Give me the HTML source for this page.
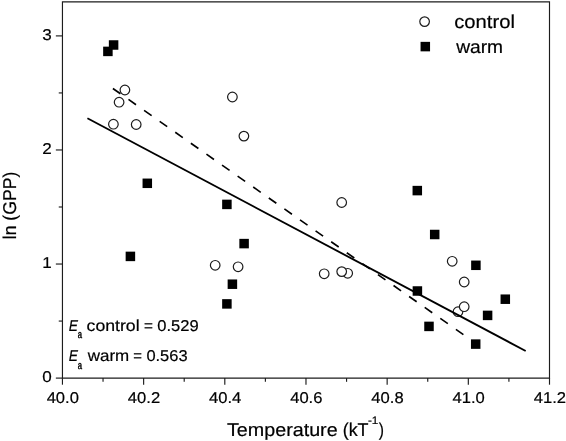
<!DOCTYPE html>
<html lang="en"><head><meta charset="utf-8"><title>ln (GPP) vs Temperature</title>
<style>html,body{margin:0;padding:0;background:#fff}svg{display:block}text{font-family:"Liberation Sans",sans-serif;fill:#000;stroke:#000;stroke-width:.2px;text-rendering:geometricPrecision}</style></head><body>
<svg width="566" height="441" viewBox="0 0 566 441">
<rect width="566" height="441" fill="#fff"/>
<g stroke="#1c1c1c" stroke-width="1.15" fill="none">
<path d="M62.45 1.9H549.5V378.1H62.45Z"/>
<path d="M55.85 378.10H62.45"/>
<path d="M58.75 321.07H62.45"/>
<path d="M55.85 264.03H62.45"/>
<path d="M58.75 207.00H62.45"/>
<path d="M55.85 149.97H62.45"/>
<path d="M58.75 92.93H62.45"/>
<path d="M55.85 35.90H62.45"/>
<path d="M62.45 378.1V384.70"/>
<path d="M103.04 378.1V381.80"/>
<path d="M143.63 378.1V384.70"/>
<path d="M184.21 378.1V381.80"/>
<path d="M224.80 378.1V384.70"/>
<path d="M265.39 378.1V381.80"/>
<path d="M305.98 378.1V384.70"/>
<path d="M346.56 378.1V381.80"/>
<path d="M387.15 378.1V384.70"/>
<path d="M427.74 378.1V381.80"/>
<path d="M468.32 378.1V384.70"/>
<path d="M508.91 378.1V381.80"/>
<path d="M549.50 378.1V384.70"/>
</g>
<path d="M112.9 88.5L463.4 334.6" stroke="#000" stroke-width="1.65" stroke-dasharray="9.2 9.85" fill="none"/>
<g stroke="#1c1c1c" stroke-width="1.2" fill="#fff">
<circle cx="124.9" cy="90.0" r="4.8"/>
<circle cx="119.1" cy="102.2" r="4.8"/>
<circle cx="113.4" cy="124.2" r="4.8"/>
<circle cx="136.2" cy="124.5" r="4.8"/>
<circle cx="232.4" cy="97.0" r="4.8"/>
<circle cx="243.9" cy="136.1" r="4.8"/>
<circle cx="215.2" cy="265.3" r="4.8"/>
<circle cx="238.1" cy="266.8" r="4.8"/>
<circle cx="341.7" cy="202.5" r="4.8"/>
<circle cx="324.2" cy="273.8" r="4.8"/>
<circle cx="347.7" cy="273.3" r="4.8"/>
<circle cx="341.7" cy="271.6" r="4.8"/>
<circle cx="452.2" cy="261.3" r="4.8"/>
<circle cx="464.2" cy="282.0" r="4.8"/>
<circle cx="458.0" cy="311.7" r="4.8"/>
<circle cx="464.2" cy="306.7" r="4.8"/>
</g>
<g fill="#000">
<rect x="103.15" y="46.65" width="9.5" height="9.5"/>
<rect x="108.85" y="40.25" width="9.5" height="9.5"/>
<rect x="142.55" y="178.55" width="9.5" height="9.5"/>
<rect x="125.65" y="251.65" width="9.5" height="9.5"/>
<rect x="222.15" y="199.65" width="9.5" height="9.5"/>
<rect x="239.35" y="238.85" width="9.5" height="9.5"/>
<rect x="227.65" y="279.45" width="9.5" height="9.5"/>
<rect x="222.15" y="299.15" width="9.5" height="9.5"/>
<rect x="412.55" y="185.85" width="9.5" height="9.5"/>
<rect x="429.95" y="229.75" width="9.5" height="9.5"/>
<rect x="471.15" y="260.55" width="9.5" height="9.5"/>
<rect x="412.65" y="286.25" width="9.5" height="9.5"/>
<rect x="500.55" y="294.45" width="9.5" height="9.5"/>
<rect x="482.85" y="310.65" width="9.5" height="9.5"/>
<rect x="424.25" y="321.65" width="9.5" height="9.5"/>
<rect x="470.95" y="339.35" width="9.5" height="9.5"/>
</g>
<path d="M87.4 118.2L525.7 351.0" stroke="#000" stroke-width="1.85" fill="none"/>
<circle cx="424.6" cy="21.6" r="4.8" stroke="#1c1c1c" stroke-width="1.2" fill="#fff"/>
<rect x="420.55" y="41.85" width="9.5" height="9.5" fill="#000"/>
<text x="454.25" y="28.2" font-size="18.7" textLength="60.68" lengthAdjust="spacingAndGlyphs">control</text>
<text x="456.16" y="53.3" font-size="18.3" textLength="46.91" lengthAdjust="spacingAndGlyphs">warm</text>
<text x="42.32" y="382.40" font-size="15.7" textLength="9.5" lengthAdjust="spacingAndGlyphs">0</text>
<text x="42.32" y="268.33" font-size="15.7" textLength="9.5" lengthAdjust="spacingAndGlyphs">1</text>
<text x="42.32" y="154.27" font-size="15.7" textLength="9.5" lengthAdjust="spacingAndGlyphs">2</text>
<text x="42.32" y="40.20" font-size="15.7" textLength="9.5" lengthAdjust="spacingAndGlyphs">3</text>
<text x="46.65" y="402.8" font-size="15.7" textLength="32.3" lengthAdjust="spacingAndGlyphs">40.0</text>
<text x="127.83" y="402.8" font-size="15.7" textLength="32.3" lengthAdjust="spacingAndGlyphs">40.2</text>
<text x="209.00" y="402.8" font-size="15.7" textLength="32.3" lengthAdjust="spacingAndGlyphs">40.4</text>
<text x="290.18" y="402.8" font-size="15.7" textLength="32.3" lengthAdjust="spacingAndGlyphs">40.6</text>
<text x="371.35" y="402.8" font-size="15.7" textLength="32.3" lengthAdjust="spacingAndGlyphs">40.8</text>
<text x="452.52" y="402.8" font-size="15.7" textLength="32.3" lengthAdjust="spacingAndGlyphs">41.0</text>
<text x="533.70" y="402.8" font-size="15.7" textLength="32.3" lengthAdjust="spacingAndGlyphs">41.2</text>
<text transform="translate(16.3 238) rotate(-90)" x="-1.23" y="0" font-size="18.5" textLength="67.48" lengthAdjust="spacingAndGlyphs">ln (GPP)</text>
<text x="226.98" y="436.0" font-size="18.6" textLength="110.67" lengthAdjust="spacingAndGlyphs">Temperature</text>
<text x="342.69" y="436.0" font-size="18.6" textLength="25.85" lengthAdjust="spacingAndGlyphs">(kT</text>
<text x="367.97" y="424.0" font-size="10.8" textLength="10.4" lengthAdjust="spacingAndGlyphs">-1</text>
<text x="378.78" y="436.0" font-size="18.6" textLength="5.22" lengthAdjust="spacingAndGlyphs">)</text>
<text x="68.66" y="330.5" font-size="15.7" font-style="italic" textLength="9.22" lengthAdjust="spacingAndGlyphs">E</text>
<text x="77.64" y="338.4" font-size="11" style="stroke-width:0.45px" textLength="4.25" lengthAdjust="spacingAndGlyphs">a</text>
<text x="86.56" y="330.5" font-size="16" textLength="53.02" lengthAdjust="spacingAndGlyphs">control</text>
<text x="143.89" y="330.5" font-size="16" textLength="8.91" lengthAdjust="spacingAndGlyphs">=</text>
<text x="157.28" y="330.5" font-size="15.7" textLength="41.42" lengthAdjust="spacingAndGlyphs">0.529</text>
<text x="68.66" y="361.2" font-size="15.7" font-style="italic" textLength="9.22" lengthAdjust="spacingAndGlyphs">E</text>
<text x="77.64" y="369.1" font-size="11" style="stroke-width:0.45px" textLength="4.25" lengthAdjust="spacingAndGlyphs">a</text>
<text x="87.71" y="361.2" font-size="16" textLength="41.45" lengthAdjust="spacingAndGlyphs">warm</text>
<text x="133.26" y="361.2" font-size="16" textLength="8.66" lengthAdjust="spacingAndGlyphs">=</text>
<text x="146.4" y="361.2" font-size="15.7" textLength="41.18" lengthAdjust="spacingAndGlyphs">0.563</text>
</svg></body></html>
